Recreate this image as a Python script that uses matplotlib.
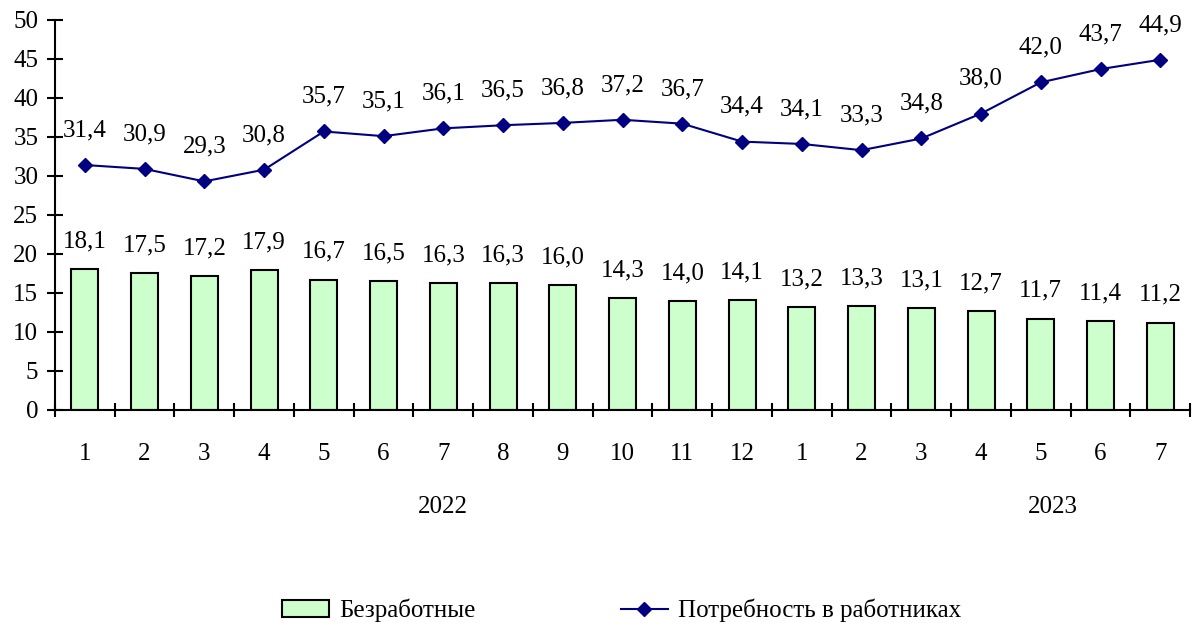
import matplotlib.pyplot as plt
import numpy as np

# months: 2022 (1-12) and 2023 (1-7)
months = ['1', '2', '3', '4', '5', '6', '7', '8', '9', '10', '11', '12',
          '1', '2', '3', '4', '5', '6', '7']
unemployed = [18.1, 17.5, 17.2, 17.9, 16.7, 16.5, 16.3, 16.3, 16.0, 14.3, 14.0, 14.1,
              13.2, 13.3, 13.1, 12.7, 11.7, 11.4, 11.2]
demand = [31.4, 30.9, 29.3, 30.8, 35.7, 35.1, 36.1, 36.5, 36.8, 37.2, 36.7, 34.4,
          34.1, 33.3, 34.8, 38.0, 42.0, 43.7, 44.9]
years = ['2022', '2023']

plt.rcParams['font.family'] = ['Liberation Serif', 'DejaVu Serif']
plt.rcParams['font.size'] = 18

fig = plt.figure(figsize=(11.95, 6.23), dpi=100)
ax = fig.add_axes([0.046, 0.342, 0.95, 0.626])

x = np.arange(len(months))
bars = ax.bar(x, unemployed, width=0.45, color='#ccffcc', edgecolor='black',
              linewidth=1.5, label='Безработные', zorder=2)
line, = ax.plot(x, demand, color='#000080', marker='D', markersize=7, linewidth=1.5,
                label='Потребность в работниках', zorder=3)

for xi, v in zip(x, unemployed):
    ax.annotate(f'{v:.1f}'.replace('.', ','), (xi, v), xytext=(0, 20),
                textcoords='offset points', ha='center', va='center')
for xi, v in zip(x, demand):
    ax.annotate(f'{v:.1f}'.replace('.', ','), (xi, v), xytext=(0, 25),
                textcoords='offset points', ha='center', va='center')

ax.set_xlim(-0.5, len(months) - 0.5)
ax.set_ylim(0, 50)
ax.set_yticks(range(0, 51, 5))
ax.set_xticks(x)
ax.set_xticklabels(months)
ax.set_xticks(np.arange(-0.5, len(months), 1), minor=True)
ax.tick_params(axis='x', which='major', length=0, pad=24)
ax.tick_params(axis='x', which='minor', direction='inout', length=10, width=1.5)
ax.tick_params(axis='y', direction='inout', length=12, width=1.5, pad=6)

for s in ['top', 'right']:
    ax.spines[s].set_visible(False)
for s in ['left', 'bottom']:
    ax.spines[s].set_linewidth(1.5)

# year captions under the month labels
ax.text(6, -12.4, years[0], ha='center', va='center')
ax.text(16.2, -12.4, years[1], ha='center', va='center')

fig.legend([bars, line], [bars.get_label(), line.get_label()],
           loc='lower center', ncol=2, frameon=False, bbox_to_anchor=(0.52, -0.035),
           columnspacing=5.8, handlelength=1.9, handletextpad=0.4)

fig.savefig('out.png', dpi=100)
